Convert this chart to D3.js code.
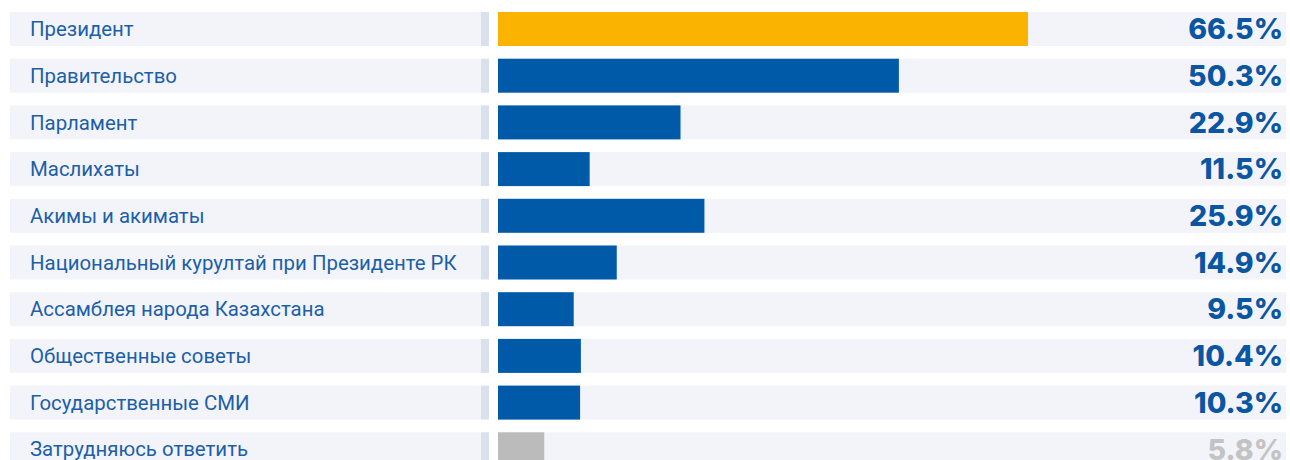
<!DOCTYPE html>
<html>
<head>
<meta charset="utf-8">
<script src="https://cdn.jsdelivr.net/npm/d3@7"></script>
<style>
  body { margin: 0; background: #fff; }
  svg { display: block; }
</style>
</head>
<body>
<div id="container"></div>
<script>
const width = 1290;
const height = 460;

const categories = [
  "Президент",
  "Правительство",
  "Парламент",
  "Маслихаты",
  "Акимы и акиматы",
  "Национальный курултай при Президенте РК",
  "Ассамблея народа Казахстана",
  "Общественные советы",
  "Государственные СМИ",
  "Затрудняюсь ответить"
];
const values = [66.5, 50.3, 22.9, 11.5, 25.9, 14.9, 9.5, 10.4, 10.3, 5.8];
const kinds = ["top", "main", "main", "main", "main", "main", "main", "main", "main", "none"];

const data = categories.map((c, i) => ({name: c, value: values[i], kind: kinds[i]}));

const barColor = {top: "#fab400", main: "#005aa7", none: "#bbbbbb"};
const valueColor = {top: "#0a56a3", main: "#0a56a3", none: "#c3c3c3"};

const labelLeft = 10;
const sepLeft = 481;
const sepRight = 489;
const barLeft = 498;
const trackRight = 1286;

const x = d3.scaleLinear()
  .domain([0, 100])
  .range([barLeft, barLeft + 797]);

const y = d3.scaleBand()
  .domain(categories)
  .range([12, 466.3])
  .paddingInner(0.272)
  .paddingOuter(0);

const svg = d3.create("svg")
  .attr("width", width)
  .attr("height", height)
  .attr("viewBox", [0, 0, width, height]);

const row = svg.append("g")
  .selectAll("g")
  .data(data)
  .join("g")
    .attr("transform", d => `translate(0,${y(d.name)})`);

// label background
row.append("rect")
  .attr("x", labelLeft)
  .attr("width", sepLeft - labelLeft)
  .attr("height", y.bandwidth())
  .attr("fill", "#f3f4f9");

// separator
row.append("rect")
  .attr("x", sepLeft)
  .attr("width", sepRight - sepLeft)
  .attr("height", y.bandwidth())
  .attr("fill", "#d9e0ee");

// track
row.append("rect")
  .attr("x", barLeft)
  .attr("width", trackRight - barLeft)
  .attr("height", y.bandwidth())
  .attr("fill", "#f3f4f9");

// bar
row.append("rect")
  .attr("x", x(0))
  .attr("width", d => x(d.value) - x(0))
  .attr("height", y.bandwidth())
  .attr("fill", d => barColor[d.kind]);

row.append("text")
  .attr("x", 30)
  .attr("y", y.bandwidth() / 2)
  .attr("dy", "0.35em")
  .attr("font-family", "Roboto, sans-serif")
  .attr("font-size", 20.4)
  .attr("fill", "#1c5fa9")
  .text(d => d.name);

row.append("text")
  .attr("x", 1283)
  .attr("y", y.bandwidth() / 2)
  .attr("dy", "0.36em")
  .attr("text-anchor", "end")
  .attr("font-family", "Inter, sans-serif")
  .attr("font-weight", 800)
  .attr("font-size", 28.5)
  .attr("fill", d => valueColor[d.kind])
  .text(d => d.value.toFixed(1) + "%");

document.getElementById("container").appendChild(svg.node());
</script>
</body>
</html>
